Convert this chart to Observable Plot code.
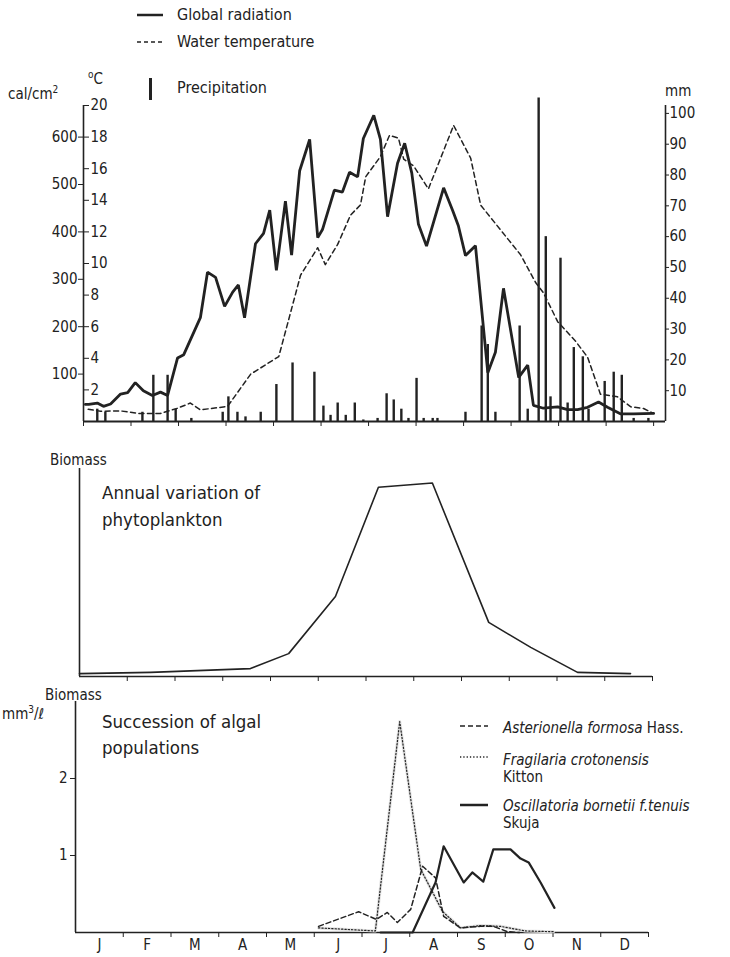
<!DOCTYPE html>
<html><head><meta charset="utf-8">
<script src="https://cdn.jsdelivr.net/npm/d3@7"></script>
<script src="https://cdn.jsdelivr.net/npm/@observablehq/plot@0.6"></script>
<style>
body{margin:0;background:#fff;}
#wrap{position:relative;width:730px;height:957px;overflow:hidden;font-family:"Liberation Sans Narrow","DejaVu Sans Condensed","DejaVu Sans",sans-serif;font-stretch:condensed;color:#222;}
.abs{position:absolute;white-space:nowrap;line-height:1;transform:translateY(-50%);}
.chart{position:absolute;left:0;}
.leg{font-size:16px;}
.small{font-size:15px;}
.title{font-size:18.5px;}
</style></head><body><div id="wrap"></div>
<script>
// ---------- data ----------
const monthLabels = ["J","F","M","A","M","J","J","A","S","O","N","D"];
const calTicks = [100,200,300,400,500,600];
const tempTicks = [2,4,6,8,10,12,14,16,18,20];
const mmTicks = [10,20,30,40,50,60,70,80,90,100];
const biomassTicks = [1,2];

// global radiation (cal/cm2), x = months since 1 Jan
const radiationMonth = [0.04,0.11,0.29,0.42,0.57,0.78,0.93,1.09,1.26,1.45,1.62,1.77,1.98,2.11,2.46,2.61,2.78,2.97,3.14,3.26,3.39,3.62,3.79,3.92,4.06,4.25,4.38,4.55,4.76,4.93,5.03,5.28,5.45,5.60,5.77,5.89,6.11,6.25,6.40,6.61,6.76,6.91,7.05,7.22,7.58,7.77,7.89,8.04,8.25,8.51,8.67,8.84,9.16,9.35,9.47,9.68,9.98,10.19,10.40,10.61,10.84,11.03,11.31,11.58,12.00];
const radiationCal = [36,36,39,32,37,58,61,82,65,55,62,55,134,141,219,315,304,243,273,288,219,375,397,446,319,465,351,529,595,388,405,488,484,526,516,597,646,595,432,545,587,524,416,370,493,445,413,350,371,103,146,281,93,119,34,28,31,25,25,30,41,30,16,16,17];

// water temperature (°C)
const waterMonth = [0.1,0.36,0.78,1.2,1.62,1.98,2.25,2.46,3.03,3.52,4.11,4.57,4.93,5.09,5.35,5.62,5.83,5.94,6.25,6.44,6.63,6.74,6.95,7.26,7.79,8.15,8.36,9.2,9.52,9.68,9.98,10.36,10.61,10.88,11.24,11.52,11.79,12.0];
const waterTemp = [0.77,0.65,0.67,0.5,0.51,0.84,1.17,0.74,0.95,3.0,4.11,9.27,11.0,9.93,11.21,13.06,13.71,15.49,16.77,18.11,17.93,16.6,16.17,14.72,18.74,16.66,13.69,10.55,8.78,8.15,6.32,5.07,4.07,1.73,1.56,0.93,0.82,0.51];

// precipitation (mm)
const precipMonth = [0.29,0.46,1.24,1.47,1.77,1.94,2.27,2.93,3.05,3.24,3.41,3.73,4.06,4.40,4.86,5.05,5.20,5.35,5.52,5.71,5.89,6.19,6.38,6.53,6.69,6.84,7.01,7.16,7.35,7.45,8.04,8.38,8.51,8.67,9.18,9.35,9.58,9.73,9.83,10.04,10.19,10.32,10.51,10.63,10.97,11.16,11.33,11.58,11.89];
const precipMm = [4,3,3,15,15,4,1,3,8,3,1.5,3,12,19,16,5,2,6,2,6,0.5,1,9,7,4,1,14,1,1,1,3,31,25,3,31,4,105,60,8,53,6,24,21,4,13,16,15,1,1];

// annual variation of phytoplankton (relative biomass, % of axis)
const biomassMonth = [0,1.49,3.58,4.38,5.36,6.26,7.39,8.57,9.45,10.43,11.54];
const biomassValue = [1.4,2,3.8,11,38.5,91,93,26,14,2,1.4];

// succession of algal populations (mm3/l)
const asterionellaMonth = [5.09,5.93,6.30,6.53,6.74,7.02,7.27,7.54,7.71,8.06,8.48,8.75,9.05,9.3];
const asterionellaValue = [0.08,0.27,0.17,0.26,0.13,0.30,0.86,0.71,0.21,0.06,0.08,0.08,0.01,0.0];
const fragilariaMonth = [5.09,6.28,6.79,7.23,7.69,8.06,8.48,8.90,9.42,10.01];
const fragilariaValue = [0.06,0.02,2.74,0.82,0.27,0.06,0.09,0.08,0.02,0.01];
const oscillatoriaMonth = [6.39,7.06,7.54,7.71,8.13,8.31,8.54,8.75,9.11,9.32,9.49,9.74,10.03];
const oscillatoriaValue = [0,0,0.65,1.12,0.65,0.78,0.66,1.08,1.08,0.96,0.91,0.65,0.32];

// ---------- helpers ----------
const zip = (xs, ys) => xs.map((x, i) => ({m: x, v: ys[i]}));
const ink = "#222";
const FONT = '"Liberation Sans Narrow","DejaVu Sans Condensed","DejaVu Sans",sans-serif';
const TEMP_PER_CAL = 0.03;   // 600 cal/cm2 <-> 18 °C
const TEMP_PER_MM = 0.195;   // 100 mm <-> 19.5 °C
const wrap = document.getElementById("wrap");

function place(el, top) { el.classList.add("chart"); el.style.top = top + "px"; wrap.appendChild(el); }
function label(html, x, y, cls = "") {
  const d = document.createElement("div");
  d.className = "abs " + cls; d.style.left = x + "px"; d.style.top = y + "px"; d.innerHTML = html;
  wrap.appendChild(d);
}
function legendLine(x, y, w, dash, sw) {
  const s = document.createElementNS("http://www.w3.org/2000/svg", "svg");
  s.setAttribute("width", w); s.setAttribute("height", 10);
  s.style.position = "absolute"; s.style.left = x + "px"; s.style.top = (y - 5) + "px";
  s.innerHTML = `<line x1="0" x2="${w}" y1="5" y2="5" stroke="${ink}" stroke-width="${sw}" ${dash ? `stroke-dasharray="${dash}"` : ""}/>`;
  wrap.appendChild(s);
}
const style = {fontFamily: FONT, fontSize: "15px", color: ink, background: "transparent", overflow: "visible"};

// ---------- top panel ----------
const xMaxTop = 12.25;
const topPlot = Plot.plot({
  width: 730, height: 436,
  marginLeft: 83, marginRight: 65, marginTop: 105, marginBottom: 15,
  x: {domain: [0, xMaxTop], axis: null},
  y: {domain: [0, 20], axis: null},
  style,
  marks: [
    Plot.ruleX(zip(precipMonth, precipMm), {x: "m", y1: 0, y2: d => d.v * TEMP_PER_MM, stroke: ink, strokeWidth: 2.4}),
    Plot.line(zip(waterMonth, waterTemp), {x: "m", y: "v", stroke: ink, strokeWidth: 1.5, strokeDasharray: "5,3.5"}),
    Plot.line(zip(radiationMonth, radiationCal), {x: "m", y: d => d.v * TEMP_PER_CAL, stroke: ink, strokeWidth: 2.8, strokeLinejoin: "miter"}),
    Plot.ruleY([0], {stroke: ink, strokeWidth: 2}),
    Plot.ruleX([0], {stroke: ink, strokeWidth: 1.6}),
    Plot.ruleX([xMaxTop], {stroke: ink, strokeWidth: 1.6}),
    Plot.axisX(d3.range(0, 13), {anchor: "bottom", label: null, tickSize: 5, tickFormat: () => "", stroke: ink}),
    Plot.axisY(calTicks.map(c => c * TEMP_PER_CAL), {anchor: "left", label: null, tickSize: 5, tickPadding: 1, tickFormat: d => Math.round(d / TEMP_PER_CAL), fill: ink, stroke: ink}),
    Plot.axisY(tempTicks, {anchor: "right", label: null, dx: -(730 - 83 - 65), tickSize: 5, tickPadding: 2, fill: ink, stroke: ink}),
    Plot.axisY(mmTicks.map(v => v * TEMP_PER_MM), {anchor: "right", label: null, tickSize: 3, tickPadding: 1, tickFormat: d => Math.round(d / TEMP_PER_MM), fill: ink, stroke: ink})
  ]
});
place(topPlot, 0);

// ---------- middle panel ----------
const midPlot = Plot.plot({
  width: 730, height: 250,
  marginLeft: 79, marginRight: 78, marginTop: 28, marginBottom: 14,
  x: {domain: [0, 12], axis: null},
  y: {domain: [0, 100], axis: null},
  style,
  marks: [
    Plot.ruleY([0], {stroke: ink, strokeWidth: 1.6}),
    Plot.ruleX([0], {stroke: ink, strokeWidth: 1.6}),
    Plot.axisX(d3.range(1, 13), {anchor: "bottom", label: null, tickSize: 5, tickFormat: () => "", stroke: ink}),
    Plot.line(zip(biomassMonth, biomassValue), {x: "m", y: "v", stroke: ink, strokeWidth: 1.6})
  ]
});
place(midPlot, 440);

// ---------- bottom panel ----------
const botPlot = Plot.plot({
  width: 730, height: 267,
  marginLeft: 75, marginRight: 82, marginTop: 11, marginBottom: 25,
  x: {domain: [0, 12], axis: null},
  y: {domain: [0, 3], axis: null},
  style,
  marks: [
    Plot.ruleY([0], {stroke: ink, strokeWidth: 1.6}),
    Plot.ruleX([0], {stroke: ink, strokeWidth: 1.6}),
    Plot.axisX(d3.range(1, 13), {anchor: "bottom", label: null, tickSize: 5, tickFormat: () => "", stroke: ink}),
    Plot.axisX(d3.range(12).map(i => i + 0.5), {anchor: "bottom", label: null, tickSize: 0, tickPadding: 7, tickFormat: (d, i) => monthLabels[i], fill: ink, fontSize: 15}),
    Plot.axisY(biomassTicks, {anchor: "left", label: null, tickSize: 5, tickPadding: 3, tickFormat: d => String(d), fill: ink, stroke: ink}),
    Plot.line(zip(fragilariaMonth, fragilariaValue), {x: "m", y: "v", stroke: "#e2e2e2", strokeWidth: 3}),
    Plot.line(zip(fragilariaMonth, fragilariaValue), {x: "m", y: "v", stroke: ink, strokeWidth: 1.2, strokeDasharray: "1.3,2"}),
    Plot.line(zip(asterionellaMonth, asterionellaValue), {x: "m", y: "v", stroke: ink, strokeWidth: 1.5, strokeDasharray: "5,3"}),
    Plot.line(zip(oscillatoriaMonth, oscillatoriaValue), {x: "m", y: "v", stroke: ink, strokeWidth: 2.2})
  ]
});
place(botPlot, 690);

// ---------- legends and labels ----------
legendLine(137, 15, 26, null, 2.5);
label("Global radiation", 177, 15, "leg");
legendLine(137, 42, 26, "4,3", 1.6);
label("Water temperature", 177, 42, "leg");
const bar = document.createElement("div");
bar.style.cssText = "position:absolute;left:149px;top:78px;width:3px;height:22px;background:" + ink;
wrap.appendChild(bar);
label("Precipitation", 177, 88, "leg");
label("cal/cm<sup style='font-size:10px'>2</sup>", 8, 93, "small");
label("<sup style='font-size:10px'>o</sup>C", 88, 78, "small");
label("mm", 665, 91, "small");

label("Biomass", 50, 460, "small");
label("Annual variation of", 102, 493, "title");
label("phytoplankton", 102, 520, "title");

label("Biomass", 45, 695, "small");
label("mm<sup style='font-size:10px'>3</sup>/ℓ", 2, 713, "small");
label("Succession of algal", 102, 722, "title");
label("populations", 102, 748, "title");

legendLine(460, 726, 28, "5,3", 1.5);
label("<i>Asterionella formosa</i> Hass.", 503, 728, "small");
legendLine(460, 757, 28, "1.3,2", 1.3);
label("<i>Fragilaria crotonensis</i>", 503, 760, "small");
label("Kitton", 503, 777, "small");
legendLine(460, 805, 28, null, 2.5);
label("<i>Oscillatoria bornetii f.tenuis</i>", 503, 806, "small");
label("Skuja", 503, 823, "small");
</script>
</body></html>
